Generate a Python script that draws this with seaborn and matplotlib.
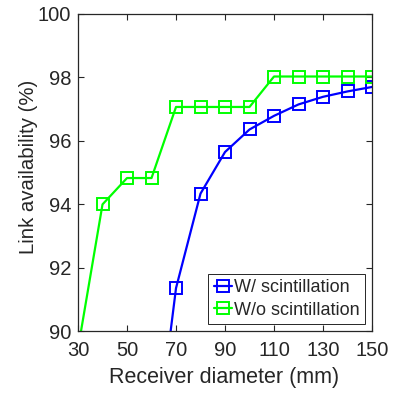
import numpy as np
import pandas as pd
import matplotlib
matplotlib.use("Agg")
import matplotlib.pyplot as plt
import seaborn as sns

# receiver diameter (mm) and link availability (%)
diam_with = [60, 70, 80, 90, 100, 110, 120, 130, 140, 150]
avail_with = [85.2, 91.36, 94.34, 95.65, 96.36, 96.79, 97.15, 97.39, 97.56, 97.70]
diam_without = [30, 40, 50, 60, 70, 80, 90, 100, 110, 120, 130, 140, 150]
avail_without = [89.45, 94.0, 94.83, 94.83, 97.07, 97.07, 97.07, 97.07,
                 98.03, 98.03, 98.03, 98.03, 98.03]
series_names = ["W/ scintillation", "W/o scintillation"]
x_ticks = [30, 50, 70, 90, 110, 130, 150]
y_ticks = [90, 92, 94, 96, 98, 100]

df = pd.concat([
    pd.DataFrame({"diam": diam_with, "avail": avail_with, "case": series_names[0]}),
    pd.DataFrame({"diam": diam_without, "avail": avail_without, "case": series_names[1]}),
])

sns.set_style("ticks")
plt.rcParams["font.family"] = ["Liberation Sans", "DejaVu Sans"]

fig = plt.figure(figsize=(3.95, 3.93), dpi=100)
ax = fig.add_axes([0.1975, 0.157, 0.7443, 0.8074])

sns.lineplot(data=df, x="diam", y="avail", hue="case",
             palette={series_names[0]: "#0000ff", series_names[1]: "#00ff00"},
             marker="s", markersize=8.5, markerfacecolor="none",
             markeredgewidth=1.4, linewidth=1.6, ax=ax)
for ln in ax.get_lines():
    ln.set_markeredgecolor(ln.get_color())

ax.set_xlim(30, 150)
ax.set_ylim(90, 100)
ax.set_xticks(x_ticks)
ax.set_yticks(y_ticks)
ax.tick_params(direction="in", top=True, right=True, labelsize=14.5,
               length=4, width=0.8, colors="#262626")
ax.tick_params(axis="x", pad=7)
ax.tick_params(axis="y", pad=5)
for s in ax.spines.values():
    s.set_linewidth(0.9)
    s.set_color("#262626")
ax.set_xlabel("Receiver diameter (mm)", fontsize=15.5, color="#262626")
ax.set_ylabel("Link availability (%)", fontsize=14.7, color="#262626")
ax.xaxis.set_label_coords(0.497, -0.113)
ax.yaxis.set_label_coords(-0.136, 0.518)

leg = ax.legend(loc="lower right", fontsize=13, handlelength=1.0,
                handletextpad=0.1, borderpad=0.3, labelspacing=0.3,
                fancybox=False, framealpha=1, borderaxespad=0.4)
leg.get_frame().set_edgecolor("#262626")
leg.get_frame().set_linewidth(0.7)
for h in leg.get_lines():
    h.set_markerfacecolor("none")
    h.set_markeredgecolor(h.get_color())

fig.savefig("out.png", dpi=100)
